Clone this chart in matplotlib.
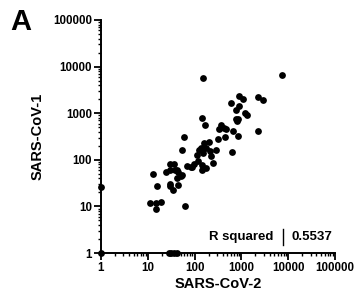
import matplotlib
matplotlib.use("Agg")
import matplotlib.pyplot as plt
from matplotlib.ticker import LogLocator, NullFormatter, FixedLocator, FixedFormatter
import numpy as np

plt.rcParams['font.family'] = ['Liberation Sans', 'DejaVu Sans']
plt.rcParams['font.weight'] = 'bold'

sars_cov2 = [154, 7200, 2230, 2900, 2230, 890, 1060, 595, 900, 760, 1200, 1310,
             780, 840, 800, 650, 830, 615, 375, 420, 460, 330, 310, 450, 146, 167,
             159, 203, 124, 135, 172, 214, 288, 220, 150, 114, 253, 118, 147, 172,
             147, 70, 82, 90, 97, 54, 59, 30, 36, 25, 30, 39, 43, 45, 50, 43, 55,
             45, 30, 35, 30, 13, 16, 11, 15, 19.5, 15, 61, 1, 1, 28, 32, 37, 42]
sars_cov1 = [5800, 6600, 2230, 1950, 415, 2300, 2030, 1660, 1450, 1150, 1000, 910,
             760, 740, 690, 420, 330, 150, 560, 490, 450, 465, 280, 316, 790, 560,
             230, 247, 164, 175, 178, 158, 164, 118, 139, 129, 85, 92, 78, 66,
             59, 74, 69, 70, 82, 164, 308, 80, 80, 55, 60, 60, 60, 55, 44, 40, 48,
             29, 27, 22, 31, 49, 27, 11.7, 11.7, 12.3, 8.9, 10, 26, 1, 1, 1, 1, 1]
tick_values = [1, 10, 100, 1000, 10000, 100000]
tick_labels = ["1", "10", "100", "1000", "10000", "100000"]
r_squared = "0.5537"

W, H = 354, 302
fig = plt.figure(figsize=(W / 100, H / 100), dpi=100)
ax = fig.add_axes([101 / W, (H - 253) / H, (335 - 101) / W, (253 - 20) / H])

ax.scatter(sars_cov2, sars_cov1, s=24, color='black', linewidths=0, clip_on=False, zorder=3)

ax.set_xscale('log')
ax.set_yscale('log')
ax.set_xlim(1, 100000)
ax.set_ylim(1, 100000)
for a in (ax.xaxis, ax.yaxis):
    a.set_major_locator(FixedLocator(tick_values))
    a.set_major_formatter(FixedFormatter(tick_labels))
    a.set_minor_locator(LogLocator(base=10, subs=np.arange(2, 10), numticks=20))
    a.set_minor_formatter(NullFormatter())

for s in ('top', 'right'):
    ax.spines[s].set_visible(False)
for s in ('left', 'bottom'):
    ax.spines[s].set_linewidth(1.4)

ax.tick_params(which='major', direction='out', length=5, width=1.3, labelsize=8.3, pad=1.5)
ax.tick_params(which='minor', direction='out', length=2.5, width=1.0)

ax.set_xlabel("SARS-CoV-2", fontsize=10.5, fontweight='bold', labelpad=2)
ax.set_ylabel("SARS-CoV-1", fontsize=10.5, fontweight='bold', labelpad=6)

ax.text(0.735, 0.07, "R squared", transform=ax.transAxes, ha='right', va='center',
        fontsize=9.5, fontweight='bold')
ax.plot([0.778, 0.778], [0.035, 0.105], transform=ax.transAxes, color='black', lw=1.0, clip_on=False)
ax.text(0.815, 0.07, r_squared, transform=ax.transAxes, ha='left', va='center',
        fontsize=9.5, fontweight='bold')

fig.text(10 / W, 1 - 22 / H, "A", fontsize=21, fontweight='bold', va='center', ha='left')

fig.savefig("out.png", dpi=100)
